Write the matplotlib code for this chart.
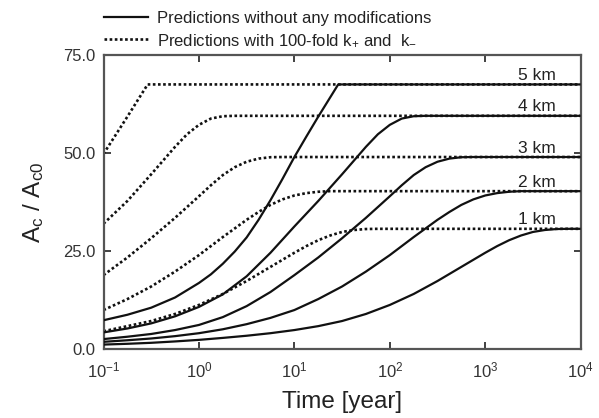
import matplotlib
matplotlib.use("Agg")
import matplotlib.pyplot as plt
from matplotlib.lines import Line2D

plt.rcParams['font.family'] = ['Liberation Sans', 'DejaVu Sans']
plt.rcParams['mathtext.fontset'] = 'custom'
plt.rcParams['mathtext.rm'] = 'Liberation Sans'
plt.rcParams['mathtext.it'] = 'Liberation Sans'
plt.rcParams['mathtext.bf'] = 'Liberation Sans:bold'

# ---------------- data ----------------
depth_labels = ["5 km", "4 km", "3 km", "2 km", "1 km"]
plateaus = [67.5, 59.5, 49.0, 40.3, 30.7]

# Solid curves: predictions without any modifications
t_s5 = [0.1, 0.178, 0.316, 0.562, 1.0, 1.334, 1.78, 2.371, 3.16, 4.217, 5.62, 7.499, 10.0, 13.34, 17.8, 28.8, 10000.0]
y_s5 = [7.4, 8.8, 10.6, 13.2, 16.9, 19.1, 21.8, 24.9, 28.5, 33.0, 38.0, 43.4, 49.0, 54.2, 59.3, 67.5, 67.5]

t_s4 = [0.1, 0.178, 0.316, 0.562, 1.0, 1.78, 3.16, 5.62, 10.0, 17.8, 31.6, 56.2, 75.0, 100.0, 133.4, 178.0, 237.1, 10000.0]
y_s4 = [4.3, 5.3, 6.6, 8.4, 10.8, 14.0, 18.6, 24.6, 31.3, 37.8, 44.6, 51.6, 54.8, 57.2, 58.8, 59.4, 59.5, 59.5]

t_s3 = [0.1, 0.178, 0.316, 0.562, 1.0, 1.78, 3.16, 5.62, 10.0, 17.8, 31.6, 56.2, 100.0, 133.4, 178.0, 237.1, 316.0, 421.7, 562.0, 749.9, 10000.0]
y_s3 = [2.6, 3.2, 3.9, 4.9, 6.2, 8.2, 11.0, 14.6, 18.9, 23.4, 28.3, 33.5, 39.0, 41.8, 44.4, 46.4, 47.8, 48.6, 48.95, 49.0, 49.0]

t_s2 = [0.1, 0.178, 0.316, 0.562, 1.0, 1.78, 3.16, 5.62, 10.0, 17.8, 31.6, 56.2, 100.0, 178.0, 316.0, 421.7, 562.0, 749.9, 1000.0, 1334.0, 1780.0, 2371.0, 10000.0]
y_s2 = [1.9, 2.3, 2.75, 3.35, 4.1, 5.1, 6.4, 8.0, 10.0, 12.8, 16.0, 19.8, 24.0, 28.6, 33.0, 35.0, 36.8, 38.2, 39.2, 39.8, 40.15, 40.3, 40.3]

t_s1 = [0.1, 0.178, 0.316, 0.562, 1.0, 1.78, 3.16, 5.62, 10.0, 17.8, 31.6, 56.2, 100.0, 178.0, 316.0, 562.0, 1000.0, 1334.0, 1780.0, 2371.0, 3160.0, 4217.0, 5620.0, 7499.0, 10000.0]
y_s1 = [1.2, 1.4, 1.65, 2.0, 2.4, 2.9, 3.45, 4.1, 4.9, 5.9, 7.2, 9.0, 11.3, 14.1, 17.4, 21.0, 24.6, 26.3, 27.8, 29.0, 29.9, 30.4, 30.65, 30.7, 30.7]

# Dotted curves: predictions with 100-fold k+ and k-
t_d5 = [0.1, 0.178, 0.29, 10000.0]
y_d5 = [49.8, 59.3, 67.5, 67.5]

t_d4 = [0.1, 0.178, 0.316, 0.562, 0.750, 1.0, 1.334, 1.78, 2.371, 10000.0]
y_d4 = [32.0, 37.8, 44.6, 51.6, 54.8, 57.2, 58.8, 59.4, 59.5, 59.5]

t_d3 = [0.1, 0.178, 0.316, 0.562, 1.0, 1.334, 1.78, 2.371, 3.16, 4.217, 5.62, 7.499, 10000.0]
y_d3 = [18.9, 23.4, 28.3, 33.5, 39.0, 41.8, 44.4, 46.4, 47.8, 48.6, 48.95, 49.0, 49.0]

t_d2 = [0.1, 0.178, 0.316, 0.562, 1.0, 1.78, 3.16, 4.217, 5.62, 7.499, 10.0, 13.34, 17.8, 23.71, 10000.0]
y_d2 = [10.0, 12.8, 16.0, 19.8, 24.0, 28.6, 33.0, 35.0, 36.8, 38.2, 39.2, 39.8, 40.15, 40.3, 40.3]

t_d1 = [0.1, 0.178, 0.316, 0.562, 1.0, 1.78, 3.16, 5.62, 10.0, 13.34, 17.8, 23.71, 31.6, 42.17, 56.2, 74.99, 10000.0]
y_d1 = [4.6, 5.9, 7.2, 9.0, 11.3, 14.1, 17.4, 21.0, 24.6, 26.3, 27.8, 29.0, 29.9, 30.4, 30.65, 30.7, 30.7]

legend_labels = ["Predictions without any modifications",
                 r"Predictions with 100-fold k$_{+}$ and  k$_{-}$"]
y_ticks = [0.0, 25.0, 50.0, 75.0]
x_ticks = [0.1, 1, 10, 100, 1000, 10000]

# ---------------- figure ----------------
fig = plt.figure(figsize=(5.99, 4.18), dpi=100)
ax = fig.add_axes([0.1728, 0.1644, 0.7966, 0.7040])

lw = 1.6
dot_style = (0, (1.0, 0.95))
for t, y in [(t_d5, y_d5), (t_d4, y_d4), (t_d3, y_d3), (t_d2, y_d2), (t_d1, y_d1)]:
    ax.plot(t, y, color='#111111', lw=lw + 0.3, linestyle=dot_style, zorder=2)
for t, y in [(t_s5, y_s5), (t_s4, y_s4), (t_s3, y_s3), (t_s2, y_s2), (t_s1, y_s1)]:
    ax.plot(t, y, color='#111111', lw=lw, solid_capstyle='butt', solid_joinstyle='round', zorder=3)

for lab, p in zip(depth_labels, plateaus):
    ax.text(10 ** 3.54, p + 1.15, lab, ha='center', va='baseline', fontsize=12.5, color='#222222')

ax.set_xscale('log')
ax.set_xlim(0.1, 10000)
ax.set_ylim(0, 75)
ax.set_xticks(x_ticks)
ax.set_yticks(y_ticks)
ax.set_yticklabels([f"{v:.1f}" for v in y_ticks])
ax.minorticks_off()
ax.tick_params(axis='both', which='major', direction='in', length=5, width=1.3,
               top=True, right=True, labelsize=12, colors='#333333', pad=6)
ax.tick_params(axis='x', pad=8)
for s in ax.spines.values():
    s.set_linewidth(1.6)
    s.set_color('#555555')

ax.set_xlabel("Time [year]", fontsize=17.5, color='#222222', labelpad=8)
ax.set_ylabel(r"A$_{\mathrm{c}}$ / A$_{\mathrm{c0}}$", fontsize=17.5, color='#222222', labelpad=12)

handles = [Line2D([0], [0], color='#111111', lw=lw),
           Line2D([0], [0], color='#111111', lw=lw + 0.3, linestyle=dot_style)]
leg = ax.legend(handles, legend_labels, loc='upper left',
                bbox_to_anchor=(104 / 599, 1 - 11 / 418), bbox_transform=fig.transFigure,
                frameon=False, fontsize=12, handlelength=2.65, handletextpad=0.55,
                labelspacing=0.38, borderpad=0, borderaxespad=0)
for txt in leg.get_texts():
    txt.set_color('#222222')

fig.savefig("out.png", dpi=100)
